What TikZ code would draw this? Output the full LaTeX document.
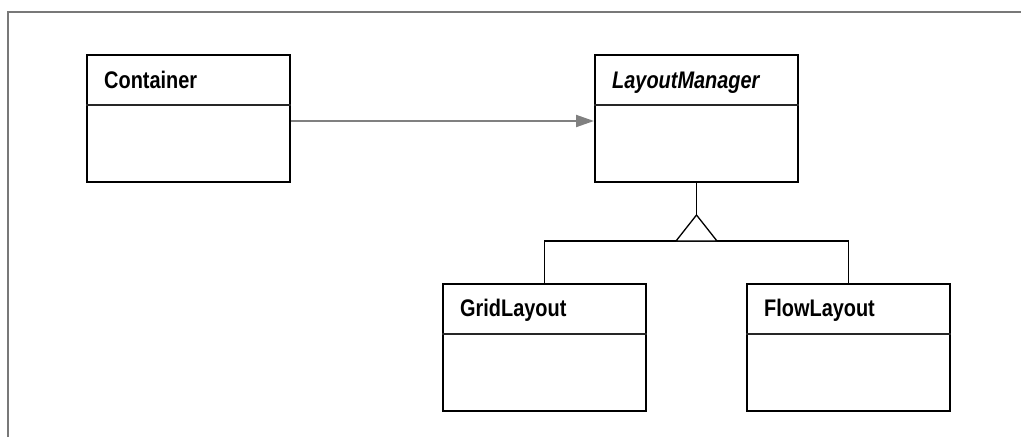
\documentclass[tikz,border=0pt]{standalone}
\usepackage{fontspec}
\setmainfont{Liberation Sans}[FakeStretch=0.83]
\usetikzlibrary{arrows.meta,calc}
\definecolor{framegray}{RGB}{120,120,120}
\definecolor{assocgray}{RGB}{128,128,128}
\tikzset{
  classbox/.style={draw=black, line width=2pt, fill=white, minimum width=203pt,
    minimum height=127pt, anchor=north west, inner sep=0pt},
  classname/.style={anchor=base west, inner sep=0pt, font=\fontsize{24}{27}\selectfont\bfseries},
  divider/.style={draw=black!85, line width=1.2pt},
  assoc/.style={draw=assocgray, line width=2pt, -{Triangle[length=18pt,width=12pt]}},
  inherit/.style={draw=black, line width=1.3pt},
  frameline/.style={draw=framegray, line width=2pt}
}
\begin{document}
\begin{tikzpicture}[x=1pt,y=-1pt]
\useasboundingbox (0,0) rectangle (1021,437);
% outer frame (top and left edges only)
\draw[frameline] (8,437) -- (8,11.5) -- (1021,11.5);

% class boxes
\node[classbox] (cont) at (86,54) {};
\node[classbox] (lm) at (594,54) {};
\node[classbox] (grid) at (442,283) {};
\node[classbox] (flow) at (746,283) {};

% compartment dividers
\foreach \c in {cont,lm,grid,flow}{
  \draw[divider] ($(\c.north west)+(0,51)$) -- ($(\c.north east)+(0,51)$);
}

% class names
\node[classname] (contname) at ($(cont.north west)+(18,34)$) {Container};
\node[classname] (lmname) at ($(lm.north west)+(18,34)$) {\itshape LayoutManager};
\node[classname] (gridname) at ($(grid.north west)+(18,33)$) {GridLayout};
\node[classname] (flowname) at ($(flow.north west)+(18,33)$) {FlowLayout};

% association Container -> LayoutManager
\draw[assoc] ([yshift=-2.5pt]cont.east) -- ([yshift=-2.5pt]lm.west);

% generalization: subclasses -> LayoutManager
\coordinate (apex) at ($(lm.south)+(0,32)$);
\coordinate (base) at ($(apex)+(0,26)$);
\draw[inherit] (grid.north) -- (grid.north |- base) -- (flow.north |- base) -- (flow.north);
\draw[inherit] (lm.south) -- (apex);
\draw[inherit, fill=white, line join=miter] (apex) -- ($(base)+(-20.5,0)$) -- ($(base)+(20.5,0)$) -- cycle;
\end{tikzpicture}
\end{document}
